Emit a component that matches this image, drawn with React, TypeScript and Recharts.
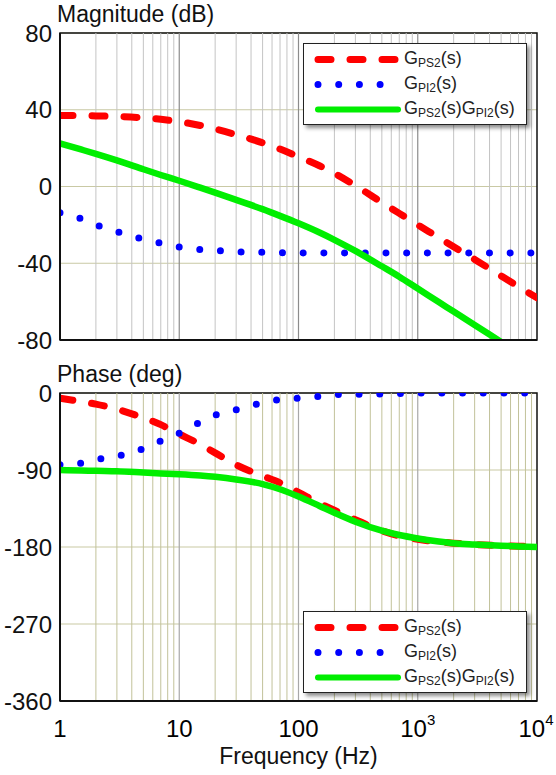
import { LineChart, Line, XAxis, YAxis, CartesianGrid, ReferenceLine, ReferenceArea } from 'recharts';

// sample frequencies (Hz)
const FREQ = [1, 1.5, 2, 3, 5, 7, 10, 15, 20, 30, 50, 70, 100, 150, 200, 300, 500, 700, 1000, 1500, 2000, 3000, 5000, 7000, 10000];

// magnitude (dB)
const MAG_PS2 = [37, 37, 36.8, 36.5, 35.8, 35, 33.8, 31.8, 30, 27, 22.8, 19.5, 15.5, 10.8, 6.9, 0.5, -8.3, -14, -20, -26.6, -31.4, -38, -46.6, -52.2, -58];
const MAG_PI2 = [-13.7, -16.8, -20, -23.5, -27.5, -29.5, -31.5, -32.8, -33.3, -34, -34.3, -34.5, -34.6, -34.6, -34.6, -34.6, -34.6, -34.6, -34.6, -34.6, -34.6, -34.6, -34.6, -34.6, -34.6];
const MAG_OPEN = [22.5, 19.3, 17, 13.6, 9, 6, 3, -0.6, -3.2, -7, -11.8, -15.3, -19.2, -24, -27.8, -33.6, -41.6, -47, -53.2, -60.2, -65.2, -72.2, -81, -86.8, -93];

// phase (deg)
const PH_PS2 = [-6, -10, -13, -19, -29, -37, -48, -60, -70, -84, -97, -105, -116, -129, -137, -148, -161, -167, -171, -174, -175.5, -177, -178.5, -179, -179.5];
const PH_PI2 = [-84, -82, -78, -74, -65, -56, -47, -34, -26, -19.5, -11.5, -7.5, -6, -4, -2, -1.5, -1, -0.5, 0, 0, 0, 0, 0, 0, 0];
const PH_OPEN = [-90, -90.5, -91, -91.5, -93, -94, -95, -96.5, -98, -101, -106.5, -112.5, -121, -132, -140, -150.5, -161, -166, -170, -173.5, -175.5, -177, -178.5, -179.3, -180];

const X_TICKS = [1, 10, 100, 1000, 10000];
const DECADES = [10, 100, 1000];
const MINOR = [2, 3, 4, 5, 6, 7, 8, 9].flatMap(m => [m, m * 10, m * 100, m * 1000]);
const MAG_TICKS = [-80, -40, 0, 40, 80];
const PH_TICKS = [-360, -270, -180, -90, 0];

const FONT = '"Liberation Sans", Arial, sans-serif';
const RED = '#ff0000';
const BLUE = '#0000ff';
const GREEN = '#00ee00';
const OLIVE = '#c9c9a4';

const magData = FREQ.map((f, i) => ({ f, ps2: MAG_PS2[i], pi2: MAG_PI2[i], open: MAG_OPEN[i] }));
const phData = FREQ.map((f, i) => ({ f, ps2: PH_PS2[i], pi2: PH_PI2[i], open: PH_OPEN[i] }));

const fmtY = (v: number) => (v < 0 ? `-${Math.abs(v)}` : String(v));

function FreqTick({ x, y, payload }: any) {
  const v = payload.value;
  const exp = Math.round(Math.log10(v));
  return (
    <text x={x} y={y + 28} textAnchor="middle" fontSize={24} fill="#000" fontFamily={FONT}>
      {exp >= 3 ? (
        <>
          <tspan>10</tspan>
          <tspan fontSize={15} dy={-12}>{exp}</tspan>
        </>
      ) : (
        String(v)
      )}
    </text>
  );
}

function Name({ sub }: { sub: string }) {
  return (
    <span>
      G<span style={{ fontSize: 12, position: 'relative', top: 3 }}>{sub}</span>(s)
    </span>
  );
}

function LegendBox({ top }: { top: number }) {
  const rows = [
    { key: 'ps2', label: <Name sub="PS2" />, color: RED, dash: '13 19', w: 7 },
    { key: 'pi2', label: <Name sub="PI2" />, color: BLUE, dash: '0 20.7', w: 7 },
    { key: 'open', label: <><Name sub="PS2" /><Name sub="PI2" /></>, color: GREEN, dash: undefined, w: 6 },
  ];
  return (
    <div
      style={{
        position: 'absolute', left: 303, top, width: 222, height: 80,
        border: '1.5px solid #222', background: '#fff',
        boxShadow: '3px 3px 4px rgba(0,0,0,0.45)', fontFamily: FONT, fontSize: 18, color: '#222',
      }}
    >
      {rows.map((r, i) => (
        <div key={r.key} style={{ position: 'absolute', left: 0, top: 3 + i * 25, height: 25, display: 'flex', alignItems: 'center' }}>
          <svg width={100} height={25}>
            <line x1={14} y1={12.5} x2={94} y2={12.5} stroke={r.color} strokeWidth={r.w}
              strokeLinecap="round" strokeDasharray={r.dash} />
          </svg>
          <div style={{ whiteSpace: 'nowrap', lineHeight: '25px' }}>{r.label}</div>
        </div>
      ))}
    </div>
  );
}

const gridLines = (minor: string, decade: string) => [
  ...MINOR.map(v => <ReferenceLine key={`m${v}`} x={v} stroke={minor} strokeWidth={1} />),
  ...DECADES.map(v => <ReferenceLine key={`d${v}`} x={v} stroke={decade} strokeWidth={1.2} />),
];

const series = () => [
  <Line key="ps2" type="monotone" dataKey="ps2" stroke={RED} strokeWidth={7} strokeDasharray="13 19"
    strokeLinecap="round" dot={false} isAnimationActive={false} />,
  <Line key="pi2" type="monotone" dataKey="pi2" stroke={BLUE} strokeWidth={7} strokeDasharray="0 20.7"
    strokeLinecap="round" dot={false} isAnimationActive={false} />,
  <Line key="open" type="monotone" dataKey="open" stroke={GREEN} strokeWidth={6.5}
    strokeLinecap="round" dot={false} isAnimationActive={false} />,
];

const titleStyle: React.CSSProperties = {
  position: 'absolute', left: 57, fontFamily: FONT, fontSize: 23, color: '#111', lineHeight: 1, whiteSpace: 'nowrap',
};

export default function App() {
  return (
    <div style={{ position: 'absolute', left: 0, top: 0, width: 556, height: 775, background: '#fff', fontFamily: FONT }}>
      <div style={{ ...titleStyle, top: 3 }}>Magnitude (dB)</div>
      <div style={{ position: 'absolute', left: 0, top: 0 }}>
        <LineChart width={556} height={360} data={magData} margin={{ top: 33, right: 19, bottom: 0, left: 0 }}>
          <CartesianGrid vertical={false} stroke={OLIVE} strokeWidth={1.2} />
          {gridLines('#c4c4c4', '#8c8c8c')}
          <ReferenceArea x1={1} x2={10000} y1={-80} y2={80} fill="none" stroke="#111" strokeWidth={1.5} />
          <XAxis dataKey="f" type="number" scale="log" domain={[1, 10000]} ticks={X_TICKS} allowDataOverflow
            height={20} tick={false} tickLine={false} axisLine={{ stroke: '#111', strokeWidth: 2 }} />
          <YAxis type="number" domain={[-80, 80]} ticks={MAG_TICKS} interval={0} allowDataOverflow width={60}
            tickFormatter={fmtY} tickLine={false} axisLine={{ stroke: '#111', strokeWidth: 2 }}
            tick={{ fontSize: 24, fill: '#111', fontFamily: FONT }} />
          {series()}
        </LineChart>
      </div>
      <LegendBox top={43} />

      <div style={{ ...titleStyle, top: 363 }}>Phase (deg)</div>
      <div style={{ position: 'absolute', left: 0, top: 360 }}>
        <LineChart width={556} height={415} data={phData} margin={{ top: 33, right: 19, bottom: 0, left: 0 }}>
          <CartesianGrid vertical={false} stroke={OLIVE} strokeWidth={1.2} />
          {gridLines('#c2c29a', '#a8a8a8')}
          <ReferenceArea x1={1} x2={10000} y1={-360} y2={0} fill="none" stroke="#111" strokeWidth={1.5} />
          <XAxis dataKey="f" type="number" scale="log" domain={[1, 10000]} ticks={X_TICKS} allowDataOverflow
            height={74} tick={<FreqTick />} tickLine={false} axisLine={{ stroke: '#111', strokeWidth: 2 }}
            label={{ value: 'Frequency (Hz)', position: 'insideBottom', offset: 11, fontSize: 23, fill: '#111', fontFamily: FONT }} />
          <YAxis type="number" domain={[-360, 0]} ticks={PH_TICKS} interval={0} allowDataOverflow width={60}
            tickFormatter={fmtY} tickLine={false} axisLine={{ stroke: '#111', strokeWidth: 2 }}
            tick={{ fontSize: 24, fill: '#111', fontFamily: FONT }} />
          {series()}
        </LineChart>
      </div>
      <LegendBox top={611} />
    </div>
  );
}
